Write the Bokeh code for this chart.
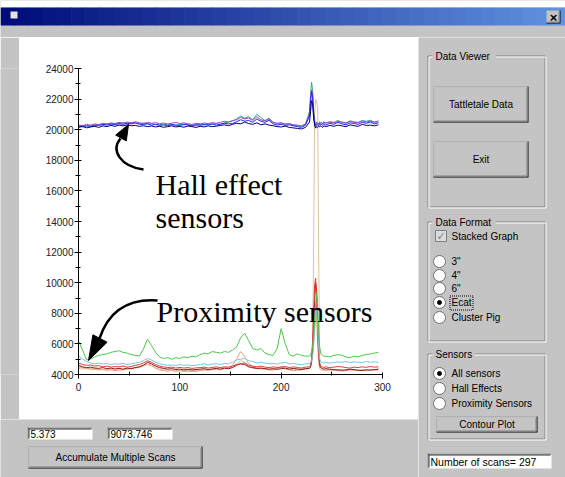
from bokeh.plotting import figure
from bokeh.layouts import column, row
from bokeh.models import Range1d, FixedTicker
from bokeh.core.properties import value
from bokeh.embed import file_html
from bokeh.resources import INLINE

# ---------------- data ----------------
scans = list(range(0, 228, 4)) + list(range(228, 243)) + list(range(244, 297, 4))

x_ticks = [0, 100, 200, 300]
x_minor = [50, 150, 250]
y_ticks = [4000, 6000, 8000, 10000, 12000, 14000, 16000, 18000, 20000, 22000, 24000]
y_minor = [5000, 7000, 9000, 11000, 13000, 15000, 17000, 19000, 21000, 23000]

hall_navy = [20150, 20220, 20120, 20180, 20220, 20150, 20250, 20200, 20280, 20220,
             20300, 20250, 20320, 20260, 20280, 20220, 20260, 20200, 20240, 20180,
             20220, 20160, 20200, 20250, 20180, 20220, 20160, 20240, 20200, 20150,
             20220, 20180, 20250, 20200, 20230, 20280, 20320, 20260, 20350, 20420,
             20380, 20500, 20400, 20350, 20450, 20320, 20380, 20300, 20260, 20200,
             20180, 20230, 20150, 20120, 20080, 20050, 20150,
             20500, 21200, 21900, 21700, 20800, 20300, 20100, 20200, 20150, 20220,
             20180, 20250, 20200, 20150, 20250,
             20200, 20280, 20220, 20300, 20250, 20200, 20320, 20260, 20220, 20350,
             20280, 20300, 20250, 20320]

hall_blue = [20240, 20180, 20260, 20200, 20300, 20280, 20350, 20300, 20380, 20320,
             20400, 20350, 20420, 20380, 20450, 20360, 20330, 20400, 20300, 20350,
             20280, 20320, 20260, 20340, 20300, 20280, 20360, 20300, 20250, 20330,
             20290, 20350, 20310, 20380, 20300, 20360, 20420, 20380, 20400, 20520,
             20650, 20560, 20600, 20480, 20700, 20550, 20480, 20620, 20380, 20300,
             20350, 20280, 20320, 20250, 20200, 20150, 20300,
             20900, 21800, 22500, 22100, 21000, 20400, 20200, 20350, 20300, 20250,
             20400, 20300, 20350, 20280, 20400,
             20300, 20420, 20350, 20480, 20380, 20320, 20450, 20400, 20350, 20480,
             20420, 20500, 20380, 20450]

hall_purple = [20300, 20260, 20350, 20280, 20380, 20330, 20420, 20360, 20450, 20400,
               20480, 20420, 20500, 20440, 20520, 20460, 20400, 20480, 20420, 20460,
               20380, 20440, 20360, 20420, 20480, 20400, 20450, 20380, 20340, 20420,
               20380, 20440, 20400, 20460, 20420, 20480, 20550, 20500, 20600, 20650,
               20800, 20700, 20760, 20600, 20850, 20650, 20580, 20700, 20480, 20420,
               20450, 20380, 20400, 20320, 20300, 20250, 20380,
               21000, 22000, 22600, 22300, 21200, 20500, 20300, 20450, 20400, 20350,
               20480, 20400, 20450, 20380, 20500,
               20420, 20500, 20450, 20550, 20480, 20420, 20550, 20480, 20450, 20580,
               20500, 20560, 20480, 20520]

hall_green = [20200, 20280, 20220, 20320, 20260, 20350, 20300, 20400, 20340, 20420,
              20380, 20460, 20400, 20480, 20420, 20380, 20440, 20360, 20400, 20320,
              20360, 20300, 20380, 20320, 20280, 20350, 20300, 20380, 20320, 20280,
              20350, 20300, 20380, 20340, 20400, 20350, 20450, 20500, 20550, 20700,
              20900, 20750, 20850, 20650, 21000, 20800, 20600, 20750, 20500, 20400,
              20420, 20350, 20380, 20300, 20260, 20220, 20350,
              21200, 22300, 23100, 22600, 21300, 20600, 20350, 20500, 20420, 20380,
              20520, 20450, 20480, 20400, 20520,
              20450, 20520, 20480, 20600, 20500, 20450, 20580, 20520, 20480, 20600,
              20550, 20620, 20500, 20580]

prox_tan = [4400, 4350, 4380, 4320, 4360, 4300, 4340, 4300, 4320, 4280,
            4300, 4320, 4350, 4380, 4420, 4450, 4550, 4650, 4550, 4400,
            4350, 4300, 4280, 4300, 4260, 4280, 4250, 4270, 4240, 4260,
            4300, 4320, 4280, 4320, 4350, 4320, 4380, 4400, 4500, 4700,
            4900, 4800, 4500, 4400, 4380, 4400, 4350, 4320, 4340, 4400,
            4500, 4400, 4350, 4320, 4350, 4380, 4400,
            4400, 4500, 4800, 6000, 12000, 21000, 22000, 21800, 21500, 12000,
            5000, 4500, 4400, 4380, 4350,
            4350, 4320, 4300, 4330, 4300, 4280, 4320, 4300, 4280, 4320,
            4300, 4330, 4300, 4320]

prox_orange = [4500, 4450, 4400, 4380, 4350, 4300, 4320, 4280, 4300, 4260,
               4280, 4300, 4350, 4400, 4450, 4500, 4600, 4700, 4600, 4450,
               4300, 4250, 4220, 4260, 4200, 4240, 4200, 4180, 4220, 4200,
               4250, 4280, 4300, 4320, 4350, 4300, 4400, 4450, 4600, 5000,
               5500, 5200, 4700, 4500, 4400, 4350, 4380, 4300, 4280, 4400,
               4500, 4350, 4300, 4250, 4280, 4300, 4350,
               4400, 4600, 5000, 5600, 6500, 7800, 8500, 7600, 6000, 4800,
               4400, 4300, 4280, 4250, 4300,
               4250, 4300, 4280, 4250, 4220, 4250, 4300, 4280, 4250, 4300,
               4280, 4320, 4300, 4280]

prox_darkred = [4600, 4500, 4450, 4480, 4420, 4400, 4450, 4380, 4420, 4360,
                4400, 4350, 4420, 4380, 4450, 4500, 4600, 4800, 4700, 4550,
                4450, 4400, 4350, 4380, 4320, 4350, 4300, 4340, 4300, 4320,
                4350, 4380, 4320, 4360, 4400, 4350, 4420, 4380, 4450, 4600,
                4700, 4650, 4500, 4450, 4400, 4420, 4380, 4350, 4380, 4340,
                4380, 4420, 4350, 4400, 4360, 4320, 4380,
                4400, 4500, 4800, 5500, 7000, 8800, 10000, 9500, 7500, 5500,
                4600, 4450, 4400, 4380, 4350,
                4380, 4350, 4320, 4300, 4280, 4300, 4350, 4320, 4280, 4250,
                4300, 4280, 4320, 4350]

prox_red = [4750, 4650, 4600, 4620, 4550, 4580, 4500, 4550, 4480, 4520,
            4500, 4550, 4480, 4520, 4600, 4650, 4750, 4900, 4800, 4650,
            4550, 4500, 4450, 4480, 4420, 4460, 4420, 4450, 4400, 4430,
            4450, 4480, 4420, 4460, 4500, 4450, 4500, 4480, 4550, 4650,
            4700, 4750, 4600, 4550, 4500, 4550, 4480, 4450, 4500, 4460,
            4480, 4520, 4450, 4500, 4460, 4420, 4480,
            4500, 4600, 5000, 6200, 8000, 9800, 10300, 9000, 7000, 5200,
            4700, 4550, 4500, 4480, 4450,
            4500, 4450, 4480, 4520, 4500, 4450, 4420, 4480, 4450, 4500,
            4470, 4520, 4480, 4500]

prox_cyan = [5200, 5000, 4850, 4750, 4700, 4750, 4680, 4720, 4650, 4700,
             4680, 4720, 4650, 4700, 4750, 4800, 4900, 5050, 4950, 4800,
             4700, 4650, 4600, 4620, 4580, 4650, 4600, 4620, 4580, 4600,
             4650, 4700, 4620, 4680, 4700, 4650, 4720, 4700, 4800, 4950,
             5000, 5050, 4900, 4850, 4750, 4800, 4750, 4700, 4720, 4680,
             4750, 4800, 4700, 4720, 4680, 4650, 4700,
             4700, 4750, 4900, 5200, 5800, 6800, 7800, 8200, 7200, 5800,
             5000, 4850, 4800, 4780, 4750,
             4800, 4750, 4780, 4820, 4800, 4850, 4780, 4820, 4800, 4780,
             4850, 4800, 4830, 4800]

prox_green = [6200, 5600, 4950, 5000, 5150, 5250, 5300, 5350, 5450, 5500,
              5550, 5450, 5400, 5300, 5250, 5200, 5650, 6300, 5900, 5450,
              5150, 5050, 5100, 5000, 5100, 5050, 5150, 5100, 5200, 5150,
              5300, 5400, 5350, 5500, 5450, 5400, 5500, 5450, 5600, 5800,
              6400, 6700, 6200, 5700, 5600, 5700, 5400, 5300, 5250, 5700,
              7000, 6000, 5300, 5200, 5350, 5250, 5200,
              5200, 5300, 5500, 5800, 6500, 7500, 8500, 9300, 8500, 7000,
              5800, 5400, 5300, 5250, 5200,
              5200, 5150, 5250, 5300, 5250, 5150, 5100, 5200, 5150, 5250,
              5300, 5350, 5400, 5450]

series = [
    (prox_tan, "#dcc49c"),
    (prox_orange, "#f2a083"),
    (prox_darkred, "#8b1a1a"),
    (prox_red, "#e03c3c"),
    (prox_cyan, "#74c8d8"),
    (prox_green, "#4cc84c"),
    (hall_green, "#2fb07a"),
    (hall_purple, "#a040d0"),
    (hall_blue, "#2424ff"),
    (hall_navy, "#000070"),
]

# ---------------- window geometry (page pixels) ----------------
GRAY = "#c4c4c4"
W, H = 565, 477
PL, PT, PR, PB = 19, 37, 418, 419       # white chart panel
FL, FT, FR, FB = 78, 68, 382, 374       # chart frame
UI_FONT = "Liberation Sans"


def chrome(x0, x1, y0, y1):
    f = figure(width=x1 - x0, height=y1 - y0, x_range=Range1d(x0, x1), y_range=Range1d(y1, y0),
               output_backend="svg", toolbar_location=None,
               x_axis_location=None, y_axis_location=None, min_border=0,
               background_fill_color=GRAY, border_fill_color=GRAY, outline_line_color=None)
    f.xgrid.visible = False
    f.ygrid.visible = False
    return f


def box(f, l, t, r, b, fill=None, line=None, dash="solid"):
    f.quad(left=[l], right=[r], top=[t], bottom=[b],
           fill_color=fill, fill_alpha=1.0 if fill else 0.0,
           line_color=line, line_alpha=1.0 if line else 0.0, line_width=1, line_dash=dash)


def text(f, x, y, s, size="10px", font=UI_FONT, align="left", baseline="middle",
         color="black", style="normal"):
    f.text(x=[x], y=[y], text=[s], text_font=value(font), text_font_size=value(size),
           text_align=align, text_baseline=baseline, text_color=color, text_font_style=style)


def button(f, l, t, r, b, label):
    box(f, l, t, r, b, fill="black")
    box(f, l, t, r - 1, b - 1, fill="white")
    box(f, l + 1, t + 1, r - 1, b - 1, fill="#808080")
    box(f, l + 1, t + 1, r - 2, b - 2, fill=GRAY)
    if label:
        text(f, (l + r) / 2, (t + b) / 2, label, align="center")


def field(f, l, t, r, b, s, size="10px"):
    box(f, l, t, r, b, fill="white")
    box(f, l, t, r, t + 1, fill="#808080")
    box(f, l, t, l + 1, b, fill="#808080")
    box(f, l + 1, t + 1, r - 1, t + 2, fill="#303030")
    box(f, l + 1, t + 1, l + 2, b - 1, fill="#303030")
    text(f, l + 3, (t + b) / 2 + 0.5, s, size=size)


def group(f, l, t, r, b, title):
    box(f, l + 0.5, t + 0.5, r + 0.5, b + 0.5, line="#808080")
    box(f, l + 1.5, t + 1.5, r + 1.5, b + 1.5, line="white")
    box(f, l + 5, t - 6, l + 10 + 5.3 * len(title), t + 6, fill=GRAY)
    text(f, l + 8, t + 1, title)


def radio(f, cx, cy, s, on=False):
    f.scatter(x=[cx], y=[cy], size=12, marker="circle", fill_color="white", line_color="#707070")
    if on:
        f.scatter(x=[cx], y=[cy], size=4, marker="circle", fill_color="black", line_color="black")
    text(f, cx + 12, cy, s)


# ---------------- title bar strip ----------------
top = chrome(0, W, 0, PT)
box(top, 0, 0, W, 7, fill="white")
c0, c1 = (0, 12, 122), (96, 146, 224)
n = 40
for i in range(n):
    fr = i / (n - 1)
    col = "#%02x%02x%02x" % tuple(int(a + (b_ - a) * fr) for a, b_ in zip(c0, c1))
    box(top, i * W / n, 7, (i + 1) * W / n + 0.6, 25, fill=col)
box(top, 10, 11, 17, 18, fill="#e4e4e4")
button(top, 546, 10, 560, 23, None)
text(top, 553, 16.5, "×", size="13px", align="center", style="bold")

# ---------------- left strip ----------------
left = chrome(0, PL, PT, PB)

# ---------------- chart ----------------
p = figure(width=PR - PL, height=PB - PT, x_range=Range1d(0, 300), y_range=Range1d(4000, 24000),
           output_backend="svg", toolbar_location=None,
           min_border_left=FL - PL, min_border_right=PR - FR,
           min_border_top=FT - PT, min_border_bottom=PB - FB,
           background_fill_color="white", border_fill_color="white", outline_line_color=None)
p.extra_x_ranges = {"px": Range1d(FL, FR)}
p.extra_y_ranges = {"py": Range1d(FB, FT)}
p.xgrid.visible = False
p.ygrid.visible = False

for ax, ticks, minor in ((p.xaxis[0], x_ticks, x_minor), (p.yaxis[0], y_ticks, y_minor)):
    ax.ticker = FixedTicker(ticks=ticks, minor_ticks=minor)
    ax.axis_line_color = "black"
    ax.major_tick_line_color = "black"
    ax.minor_tick_line_color = "black"
    ax.major_label_text_font = "Liberation Sans"
    ax.major_label_text_font_size = "10px"
    ax.major_label_text_color = "#222222"
p.xaxis.major_tick_in = 2
p.xaxis.major_tick_out = 4
p.xaxis.minor_tick_in = 3
p.xaxis.minor_tick_out = 1
p.xaxis.major_label_standoff = 4
p.yaxis.major_tick_in = 3
p.yaxis.major_tick_out = 4
p.yaxis.minor_tick_in = 2
p.yaxis.minor_tick_out = 3
p.yaxis.major_label_standoff = 1

for vals, color in series:
    n_ = min(len(scans), len(vals))
    p.line(scans[:n_], vals[:n_], line_color=color, line_width=1)

for s, x, y in (("Hall effect", 155, 184), ("sensors", 155, 217), ("Proximity sensors", 156, 311)):
    p.text(x=[x], y=[y], text=[s], x_range_name="px", y_range_name="py",
           text_font=value("Liberation Serif"), text_font_size=value("30px"),
           text_baseline="alphabetic", text_align="left", text_color="black")

p.bezier(x0=[143], y0=[169], x1=[120], y1=[138], cx0=[120], cy0=[166], cx1=[110], cy1=[150],
         x_range_name="px", y_range_name="py", line_color="black", line_width=2.5)
p.patch(x=[128, 115.2, 125.8], y=[124, 134.6, 140.4], x_range_name="px", y_range_name="py",
        fill_color="black", line_color="black")
p.bezier(x0=[157], y0=[300], x1=[99], y1=[338], cx0=[128], cy0=[298], cx1=[108], cy1=[311],
         x_range_name="px", y_range_name="py", line_color="black", line_width=2.5)
p.patch(x=[88, 92.4, 106.6], y=[360, 334.3, 341.7], x_range_name="px", y_range_name="py",
        fill_color="black", line_color="black")

# ---------------- bottom strip (under chart) ----------------
bottom = chrome(0, PR, PB, H)
field(bottom, 27, 427, 92, 439, "5.373")
field(bottom, 107, 427, 172, 439, "9073.746")
button(bottom, 28, 446, 202, 468, "Accumulate Multiple Scans")

# ---------------- right-hand panel ----------------
right = chrome(PR, W, PT, H)
group(right, 427, 55, 544, 206, "Data Viewer")
button(right, 433, 86, 528, 122, "Tattletale Data")
button(right, 433, 141, 528, 177, "Exit")

group(right, 427, 221, 544, 340, "Data Format")
box(right, 435, 230, 446, 241, fill="#dcdcdc", line="#808080")
text(right, 440.5, 236, "✓", size="11px", font="DejaVu Sans", align="center",
     color="#808080", style="bold")
text(right, 451, 235.5, "Stacked Graph")
radio(right, 439, 261, '3"')
radio(right, 439, 275, '4"')
radio(right, 439, 288, '6"')
radio(right, 439, 302, "Ecat", on=True)
box(right, 449.5, 295.5, 472.5, 309.5, line="#000000", dash="1 1")
radio(right, 439, 317, "Cluster Pig")

group(right, 427, 353, 544, 438, "Sensors")
radio(right, 439, 373, "All sensors", on=True)
radio(right, 439, 388, "Hall Effects")
radio(right, 439, 403, "Proximity Sensors")
button(right, 436, 416, 537, 432, "Contour Plot")

field(right, 427, 453, 551, 468, "Number of scans= 297", size="10.5px")

layout = column(top, row(column(row(left, p), bottom), right))

open("out.html", "w").write(file_html(layout, INLINE))
